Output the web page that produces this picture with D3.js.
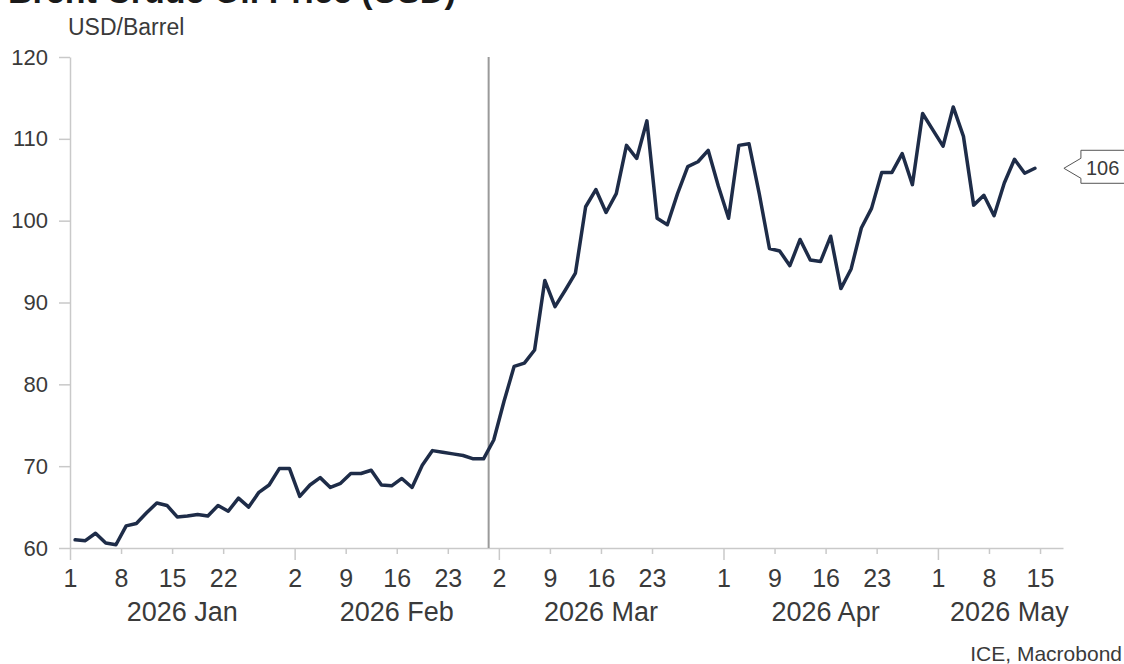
<!DOCTYPE html>
<html><head><meta charset="utf-8">
<script src="https://cdn.jsdelivr.net/npm/d3@7"></script>
<style>
body{margin:0;background:#fff}
svg{display:block}
text{font-family:"Liberation Sans",Arial,sans-serif;fill:#3a3a3a}
</style>
</head><body><svg id="c" width="1124" height="664"></svg>
<script>
// Trading days on the axis (ICE Brent, Good Friday closed)
const axisDays = [
"2026-01-01","2026-01-02","2026-01-05","2026-01-06","2026-01-07","2026-01-08","2026-01-09","2026-01-12","2026-01-13","2026-01-14","2026-01-15","2026-01-16","2026-01-19","2026-01-20","2026-01-21","2026-01-22","2026-01-23","2026-01-26","2026-01-27","2026-01-28","2026-01-29","2026-01-30",
"2026-02-02","2026-02-03","2026-02-04","2026-02-05","2026-02-06","2026-02-09","2026-02-10","2026-02-11","2026-02-12","2026-02-13","2026-02-16","2026-02-17","2026-02-18","2026-02-19","2026-02-20","2026-02-23","2026-02-24","2026-02-25","2026-02-26","2026-02-27",
"2026-03-02","2026-03-03","2026-03-04","2026-03-05","2026-03-06","2026-03-09","2026-03-10","2026-03-11","2026-03-12","2026-03-13","2026-03-16","2026-03-17","2026-03-18","2026-03-19","2026-03-20","2026-03-23","2026-03-24","2026-03-25","2026-03-26","2026-03-27","2026-03-30","2026-03-31",
"2026-04-01","2026-04-02","2026-04-06","2026-04-07","2026-04-08","2026-04-09","2026-04-10","2026-04-13","2026-04-14","2026-04-15","2026-04-16","2026-04-17","2026-04-20","2026-04-21","2026-04-22","2026-04-23","2026-04-24","2026-04-27","2026-04-28","2026-04-29","2026-04-30",
"2026-05-01","2026-05-04","2026-05-05","2026-05-06","2026-05-07","2026-05-08","2026-05-11","2026-05-12","2026-05-13","2026-05-14","2026-05-15"
];
// Brent, USD/barrel, one value per trading day from 2026-01-01 to 2026-05-14
const brent = [
61.0,60.9,61.8,60.6,60.4,62.7,63.0,64.3,65.5,65.2,63.8,63.9,64.1,63.9,65.2,64.5,66.1,65.0,66.8,67.7,69.7,69.7,
66.3,67.7,68.6,67.4,67.9,69.1,69.1,69.5,67.7,67.6,68.5,67.4,70.1,71.9,71.7,71.5,71.3,70.9,70.9,73.2,
77.9,82.2,82.6,84.2,92.7,89.5,91.5,93.6,101.7,103.8,101.0,103.3,109.2,107.6,112.2,100.3,99.5,103.3,106.6,107.2,108.6,104.2,
100.3,109.2,109.4,103.3,96.6,96.3,94.5,97.7,95.2,95.0,98.1,91.7,94.1,99.1,101.5,105.9,105.9,108.2,104.4,113.1,111.1,
109.1,113.9,110.3,101.9,103.1,100.6,104.6,107.5,105.8,106.4
];
const dayTicks = ["2026-01-01","2026-01-08","2026-01-15","2026-01-22","2026-02-02","2026-02-09","2026-02-16","2026-02-23","2026-03-02","2026-03-09","2026-03-16","2026-03-23","2026-04-01","2026-04-09","2026-04-16","2026-04-23","2026-05-01","2026-05-08","2026-05-15"];
const dayTickLabels = ["1","8","15","22","2","9","16","23","2","9","16","23","1","9","16","23","1","8","15"];
const monthStarts = ["2026-01-01","2026-02-02","2026-03-02","2026-04-01","2026-05-01"];
const monthLabels = ["2026 Jan","2026 Feb","2026 Mar","2026 Apr","2026 May"];
const monthLabelAt = ["2026-01-16","2026-02-16","2026-03-16","2026-04-16","2026-05-12"];
const yTicks = [60,70,80,90,100,110,120];
const eventDate = "2026-02-27";
const titleText = "Brent Crude Oil Price (USD)";
const unitLabel = "USD/Barrel";
const sourceText = "ICE, Macrobond";

const svg = d3.select("#c");
const idx = d => axisDays.indexOf(d);
const x = d3.scaleLinear().domain([0, 97.25]).range([70, 1063]);
const y = d3.scaleLinear().domain([60, 120]).range([548, 57]);
const axisColor = "#c9c9c9";
const ff = '"Liberation Sans",Arial,sans-serif';

// title (cropped at the top edge, as in the reference)
svg.append("text").attr("x", 8).attr("y", 3)
  .style("font-size", "34px").style("font-weight", "bold").style("fill", "#1a1a1a")
  .text(titleText);

svg.append("text").attr("x", 68).attr("y", 35).style("font-size", "23px").text(unitLabel);

// y axis
const ya = svg.append("g").attr("transform", `translate(${x(0)},0)`)
  .call(d3.axisLeft(y).tickValues(yTicks).tickSize(11).tickSizeOuter(0).tickPadding(11));
ya.select(".domain").attr("stroke", axisColor).attr("stroke-width", 1.5);
ya.selectAll(".tick line").attr("stroke", axisColor).attr("stroke-width", 1.5);
ya.selectAll(".tick text").style("font-size", "22px").style("font-family", ff).attr("fill", "#3a3a3a");

// x axis
const xa = svg.append("g").attr("transform", `translate(0,${y(60)})`)
  .call(d3.axisBottom(x).tickValues(dayTicks.map(idx)).tickFormat((d, i) => dayTickLabels[i]).tickSize(6).tickSizeOuter(0));
xa.select(".domain").attr("stroke", axisColor).attr("stroke-width", 1.5);
const monthIdx = monthStarts.map(idx);
xa.selectAll(".tick line").attr("stroke", axisColor).attr("stroke-width", 1.5)
  .attr("y2", d => monthIdx.includes(d) ? 12 : 6);
xa.selectAll(".tick text").attr("y", 39).attr("dy", null)
  .style("font-size", "25px").style("font-family", ff).attr("fill", "#3a3a3a");

svg.append("g").selectAll("text").data(monthLabels).join("text")
  .attr("x", (d, i) => x(idx(monthLabelAt[i]))).attr("y", 621)
  .attr("text-anchor", "middle").style("font-size", "27px").text(d => d);

// event line
svg.append("line").attr("x1", x(idx(eventDate))).attr("x2", x(idx(eventDate)))
  .attr("y1", y(120)).attr("y2", y(60)).attr("stroke", "#9a9a9a").attr("stroke-width", 2);

// series line
const line = d3.line().x((d, i) => x(i + 0.5)).y(d => y(d));
svg.append("path").datum(brent).attr("d", line)
  .attr("fill", "none").attr("stroke", "#1e2c48").attr("stroke-width", 3.5)
  .attr("stroke-linejoin", "round").attr("stroke-linecap", "round");

// last value label
const lv = brent[brent.length - 1];
const ty = y(lv);
const tipX = x(brent.length - 0.5) + 29;
const boxL = tipX + 17;
svg.append("path")
  .attr("d", `M1130,${ty - 18}L${boxL},${ty - 18}L${boxL},${ty - 10}L${tipX},${ty}L${boxL},${ty + 10}L${boxL},${ty + 15}L1130,${ty + 15}`)
  .attr("fill", "#fff").attr("stroke", "#555").attr("stroke-width", 1);
svg.append("text").attr("x", boxL + 5).attr("y", ty + 7).style("font-size", "20px").text(d3.format(".0f")(lv));

svg.append("text").attr("x", 1122).attr("y", 661).attr("text-anchor", "end").style("font-size", "21px").text(sourceText);
</script>
</body></html>
